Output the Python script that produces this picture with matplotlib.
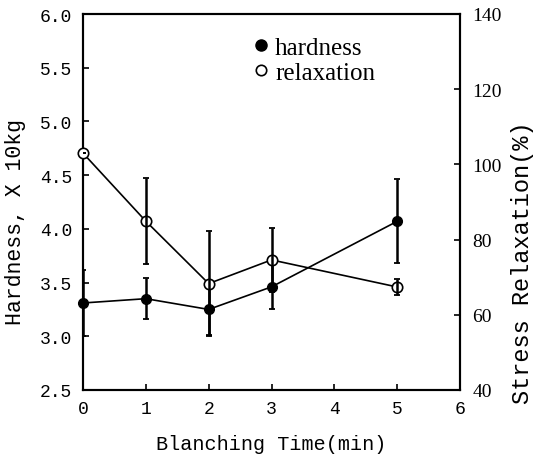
import numpy as np
import matplotlib
matplotlib.use("Agg")
import matplotlib.pyplot as plt
from matplotlib.lines import Line2D

# blanching time (min)
time = [0, 1, 2, 3, 5]
# hardness, x 10 kg (left axis)
hardness = [3.31, 3.35, 3.25, 3.46, 4.07]
hardness_err = [0.31, 0.19, 0.24, 0.21, 0.39]
# stress relaxation, % (right axis)
relaxation = [103.0, 84.9, 68.3, 74.6, 67.4]
relaxation_err = [0.0, 11.4, 14.0, 8.6, 2.1]

mono = "Liberation Mono"
serif = "Liberation Serif"

fig = plt.figure(figsize=(5.35, 4.56), dpi=100)
ax = fig.add_axes([83/535, 1 - 391/456, 377/535, 376/456])
ax2 = ax.twinx()

# hardness: filled circles
ax.plot(time, hardness, "-", color="black", lw=1.2, zorder=2)
ax.errorbar(time, hardness, yerr=hardness_err, fmt="none", ecolor="black",
            elinewidth=1.8, capsize=2.5, capthick=1.3, zorder=3)
ax.plot(time, hardness, "o", color="black", ms=7, zorder=4, clip_on=False)

# relaxation: open circles
ax2.plot(time, relaxation, "-", color="black", lw=1.2, zorder=2)
ax2.plot(time, relaxation, "o", mfc="white", mec="black", mew=1.2, ms=7.5,
         zorder=3, clip_on=False)
ax2.errorbar(time, relaxation, yerr=relaxation_err, fmt="none", ecolor="black",
             elinewidth=1.8, capsize=2.5, capthick=1.3, zorder=4)

ax.set_xlim(0, 6)
ax.set_ylim(2.5, 6.0)
ax2.set_ylim(40, 140)
ax.set_xticks(range(0, 7))
ax.set_yticks(np.arange(2.5, 6.01, 0.5))
ax.set_yticklabels([f"{v:.1f}" for v in np.arange(2.5, 6.01, 0.5)],
                   family=mono, fontsize=13)
ax.set_xticklabels([str(v) for v in range(0, 7)], family=mono, fontsize=13)
ax2.set_yticks(range(40, 141, 20))
ax2.set_yticklabels([str(v) for v in range(40, 141, 20)], family=serif,
                    fontsize=14)

ax.tick_params(direction="in", length=4, width=1.2, pad=8)
ax.tick_params(axis="x", pad=7)
ax2.tick_params(direction="in", length=4, width=1.2, pad=9)
for a in (ax, ax2):
    for s in a.spines.values():
        s.set_linewidth(1.5)

ax.set_xlabel("Blanching Time(min)", family=mono, fontsize=14.5)
ax.xaxis.set_label_coords(0.5, -0.118)
ax.set_ylabel("Hardness, X 10kg", family=mono, fontsize=15.5)
ax.yaxis.set_label_coords(-0.15, 0.45)
ax2.set_ylabel("Stress Relaxation(%)", family=mono, fontsize=17)
ax2.yaxis.set_label_coords(1.135, 0.34)

handles = [
    Line2D([], [], marker="o", ls="none", color="black", ms=8),
    Line2D([], [], marker="o", ls="none", mfc="white", mec="black", mew=1.2, ms=7.5),
]
ax.legend(handles, ["hardness", "relaxation"], loc="upper left",
          bbox_to_anchor=(0.387, 1.0), frameon=False, handlelength=0.8,
          handletextpad=0.15, labelspacing=0.1, prop={"family": serif, "size": 18})

fig.savefig("out.png", dpi=100)
